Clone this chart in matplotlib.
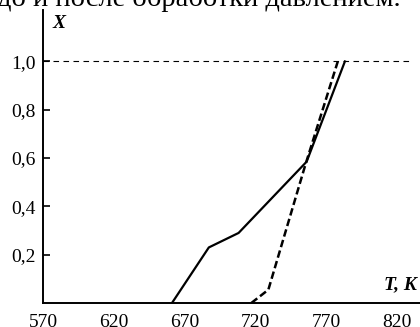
import matplotlib.pyplot as plt
import numpy as np

plt.rcParams['font.family'] = ['Liberation Serif', 'DejaVu Serif']

# conversion X vs temperature T, K
t_solid = [661, 687, 708, 756, 783]
x_solid = [0.0, 0.23, 0.29, 0.585, 1.0]
t_dash = [717, 729, 755, 778]
x_dash = [0.0, 0.055, 0.57, 1.0]

xticks = [570, 620, 670, 720, 770, 820]
yticks = [0.2, 0.4, 0.6, 0.8, 1.0]
ylabels = ['0,2', '0,4', '0,6', '0,8', '1,0']

fig = plt.figure(figsize=(4.2, 3.27), dpi=100)
ax = fig.add_axes([0.1024, 0.0734, 0.8976, 0.896])

ax.plot(t_solid, x_solid, color='black', lw=1.6)
ax.plot(t_dash, x_dash, color='black', lw=1.8, dashes=(3, 1.4))
ax.plot([570, 828], [1.0, 1.0], color='black', lw=0.8, dashes=(5, 4))

ax.set_xlim(570, 836)
ax.set_ylim(0, 1.213)

for s in ['top', 'right']:
    ax.spines[s].set_visible(False)
for s in ['left', 'bottom']:
    ax.spines[s].set_linewidth(1.4)

ax.set_xticks(xticks)
ax.set_xticks([620, 820], minor=True)
ax.tick_params(axis='x', which='major', length=0, pad=8, labelsize=14)
ax.tick_params(axis='x', which='minor', direction='in', length=5, width=1)
ax.set_yticks(yticks)
ax.set_yticklabels(ylabels)
ax.tick_params(axis='y', direction='in', length=5, width=1.2, pad=5, labelsize=14)

fig.text(0.124, 0.955, 'X', fontsize=14, fontweight='bold', fontstyle='italic', va='top')
fig.text(0.915, 0.117, 'T, K', fontsize=14, fontweight='bold', fontstyle='italic')
fig.text(-0.007, 0.982, 'до и после обработки давлением.', fontsize=20.5)

fig.savefig('out.png', dpi=100)
